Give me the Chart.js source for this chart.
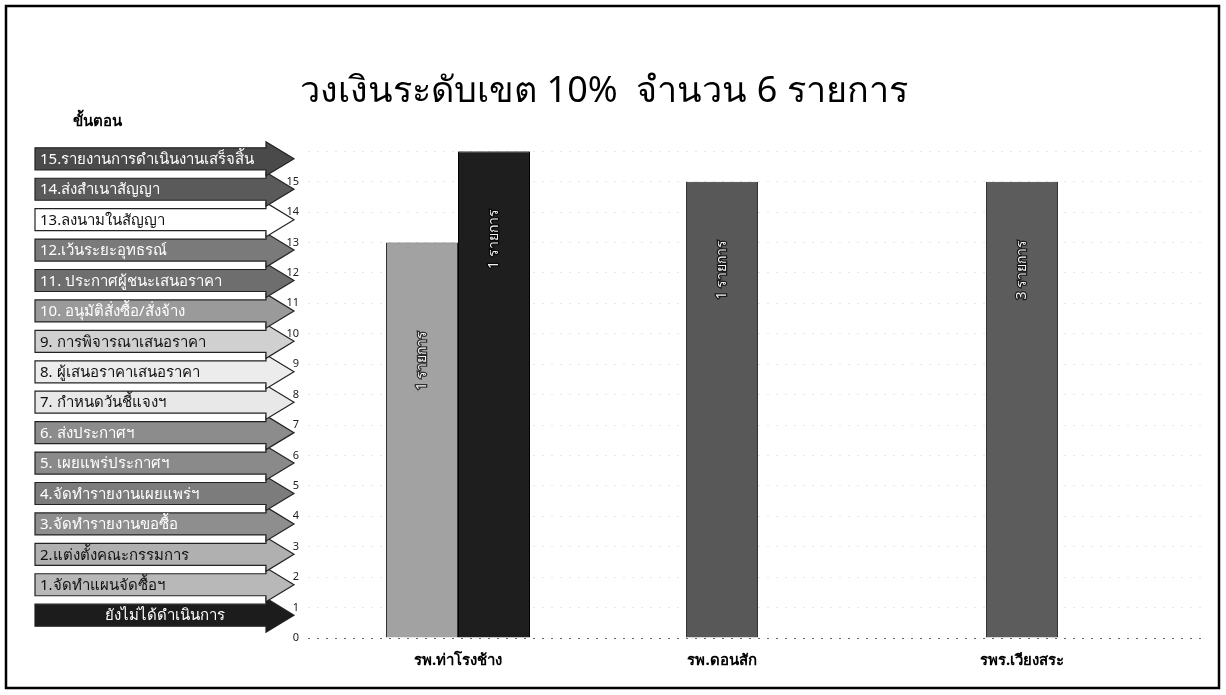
<!DOCTYPE html>
<html lang="th">
<head>
<meta charset="utf-8">
<title>วงเงินระดับเขต 10%</title>
<script src="https://cdn.jsdelivr.net/npm/chart.js@4.4.1/dist/chart.umd.min.js"></script>
<style>
  html, body { margin: 0; padding: 0; background: #fff; }
  #wrap { position: relative; width: 1226px; height: 695px; }
</style>
</head>
<body>
<div id="wrap"><canvas id="chart" width="1226" height="695"></canvas></div>
<script>
/* ---- data ---- */
var TITLE = 'วงเงินระดับเขต 10%  จำนวน 6 รายการ';
var hospitals = ['รพ.ท่าโรงช้าง', 'รพ.ดอนสัก', 'รพร.เวียงสระ'];
var stepA = [13, 15, 15];
var stepB = [16, null, null];
var countLabelsA = ['1 รายการ', '1 รายการ', '3 รายการ'];
var countLabelsB = ['1 รายการ', null, null];
var stepHeader = 'ขั้นตอน';
var stepNames = [
  'ยังไม่ได้ดำเนินการ',
  '1.จัดทำแผนจัดซื้อฯ',
  '2.แต่งตั้งคณะกรรมการ',
  '3.จัดทำรายงานขอซื้อ',
  '4.จัดทำรายงานเผยแพร่ฯ',
  '5. เผยแพร่ประกาศฯ',
  '6. ส่งประกาศฯ',
  '7. กำหนดวันชี้แจงฯ',
  '8. ผู้เสนอราคาเสนอราคา',
  '9. การพิจารณาเสนอราคา',
  '10. อนุมัติสั่งซื้อ/สั่งจ้าง',
  '11. ประกาศผู้ชนะเสนอราคา',
  '12.เว้นระยะอุทธรณ์',
  '13.ลงนามในสัญญา',
  '14.ส่งสำเนาสัญญา',
  '15.รายงานการดำเนินงานเสร็จสิ้น'
];

(function () {
  'use strict';

  var FONT = 'Tahoma, "Noto Sans", "DejaVu Sans", sans-serif';

  // fill / text colour for each step arrow (index = step number)
  var arrowFill = ['#1c1c1c', '#b8b8b8', '#b0b0b0', '#8e8e8e', '#7c7c7c', '#8a8a8a', '#8c8c8c',
    '#e8e8e8', '#ececec', '#d0d0d0', '#9a9a9a', '#6e6e6e', '#7a7a7a', '#ffffff', '#5a5a5a', '#4a4a4a'];
  var arrowText = ['#fff', '#111', '#111', '#fff', '#fff', '#fff', '#fff',
    '#111', '#111', '#111', '#fff', '#fff', '#fff', '#111', '#fff', '#fff'];

  /* =========================================================================
     Step arrows down the left side, placed on the y scale
     ========================================================================= */
  var stepArrows = {
    id: 'stepArrows',
    afterDraw: function (chart) {
      var ctx = chart.ctx;
      var y = chart.scales.y;
      var x0 = 35, x1 = 266, tip = 294, bodyH = 22, headH = 34;

      ctx.save();
      ctx.font = 'bold 15px ' + FONT;
      ctx.fillStyle = '#000';
      ctx.textAlign = 'center';
      ctx.textBaseline = 'middle';
      ctx.fillText(stepHeader, 97, 122);

      for (var k = 0; k < stepNames.length; k++) {
        var cy = y.getPixelForValue(k + 0.75);
        ctx.beginPath();
        ctx.moveTo(x0, cy - bodyH / 2);
        ctx.lineTo(x1, cy - bodyH / 2);
        ctx.lineTo(x1, cy - headH / 2);
        ctx.lineTo(tip, cy);
        ctx.lineTo(x1, cy + headH / 2);
        ctx.lineTo(x1, cy + bodyH / 2);
        ctx.lineTo(x0, cy + bodyH / 2);
        ctx.closePath();
        ctx.fillStyle = arrowFill[k];
        ctx.fill();
        ctx.lineWidth = 1.2;
        ctx.strokeStyle = '#222';
        ctx.stroke();

        ctx.font = '15px ' + FONT;
        ctx.fillStyle = arrowText[k];
        ctx.textBaseline = 'middle';
        if (k === 0) {
          ctx.textAlign = 'center';
          ctx.fillText(stepNames[k], 165, cy + 1);
        } else {
          ctx.textAlign = 'left';
          ctx.fillText(stepNames[k], x0 + 5, cy + 1);
        }
      }
      ctx.restore();
    }
  };

  /* =========================================================================
     Rotated count labels inside bars + hospital names under the bars
     ========================================================================= */
  var barText = {
    id: 'barText',
    afterDatasetsDraw: function (chart) {
      var ctx = chart.ctx;
      var labelSets = [countLabelsA, countLabelsB];
      var centers = [];

      ctx.save();
      ctx.font = '14px ' + FONT;
      ctx.textAlign = 'center';
      ctx.textBaseline = 'middle';
      labelSets.forEach(function (labels, di) {
        var meta = chart.getDatasetMeta(di);
        meta.data.forEach(function (bar, i) {
          var v = chart.data.datasets[di].data[i];
          if (v === null || v === undefined) return;
          if (!centers[i]) centers[i] = [];
          centers[i].push(bar.x);
          if (!labels[i]) return;
          // light bar label sits lower than the others in the original
          var drop = (di === 0 && i === 0) ? 118 : 88;
          ctx.save();
          ctx.translate(bar.x, bar.y + drop);
          ctx.rotate(-Math.PI / 2);
          ctx.lineWidth = 2.5;
          ctx.strokeStyle = 'rgba(0,0,0,0.7)';
          ctx.strokeText(labels[i], 0, 0);
          ctx.fillStyle = '#f2f2f2';
          ctx.fillText(labels[i], 0, 0);
          ctx.restore();
        });
      });

      ctx.font = 'bold 15px ' + FONT;
      ctx.fillStyle = '#000';
      var bottom = chart.chartArea.bottom;
      hospitals.forEach(function (name, i) {
        var xs = centers[i] || [];
        if (!xs.length) return;
        var cx = xs.reduce(function (a, b) { return a + b; }, 0) / xs.length;
        ctx.fillText(name, cx, bottom + 23);
      });
      ctx.restore();
    }
  };

  /* =========================================================================
     Outer frame
     ========================================================================= */
  var frame = {
    id: 'frame',
    beforeDraw: function (chart) {
      var ctx = chart.ctx;
      ctx.save();
      ctx.fillStyle = '#fff';
      ctx.fillRect(0, 0, chart.width, chart.height);
      ctx.restore();
    },
    afterDraw: function (chart) {
      var ctx = chart.ctx;
      ctx.save();
      ctx.lineWidth = 2.5;
      ctx.strokeStyle = '#000';
      ctx.strokeRect(6, 6, 1213, 682);
      ctx.restore();
    }
  };

  function boot() {
    var canvas = document.getElementById('chart');
    new Chart(canvas, {
      type: 'bar',
      data: {
        labels: hospitals,
        datasets: [
          {
            label: 'A',
            data: stepA,
            backgroundColor: ['#a2a2a2', '#585858', '#5c5c5c'],
            borderColor: '#333',
            borderWidth: 1
          },
          {
            label: 'B',
            data: stepB,
            backgroundColor: '#1e1e1e',
            borderColor: '#000',
            borderWidth: 1
          }
        ]
      },
      options: {
        responsive: false,
        animation: false,
        events: [],
        layout: { padding: { top: 70, left: 0, right: 18, bottom: 49 } },
        datasets: { bar: { barPercentage: 1, categoryPercentage: 0.48, skipNull: false } },
        plugins: {
          legend: { display: false },
          tooltip: { enabled: false },
          title: {
            display: true,
            text: TITLE,
            color: '#000',
            font: { family: FONT, size: 36, weight: 'normal', lineHeight: 1.2 },
            padding: { top: 0, bottom: 38 }
          }
        },
        scales: {
          x: {
            ticks: { display: false },
            grid: { display: false },
            border: { display: false }
          },
          y: {
            min: 0,
            max: 16,
            afterFit: function (scale) { scale.width = 308; },
            ticks: {
              stepSize: 1,
              padding: 9,
              color: '#222',
              font: { family: FONT, size: 11 },
              callback: function (v) { return v === 16 ? '' : v; }
            },
            grid: {
              drawTicks: false,
              color: function (c) { return c.tick.value === 0 ? '#666' : 'rgba(0,0,0,0.09)'; },
              lineWidth: 1
            },
            border: { display: false, dash: [2, 7] }
          }
        }
      },
      plugins: [frame, barText, stepArrows]
    });
  }

  if (document.readyState === 'loading') {
    document.addEventListener('DOMContentLoaded', boot);
  } else {
    boot();
  }
}());
</script>
</body>
</html>
